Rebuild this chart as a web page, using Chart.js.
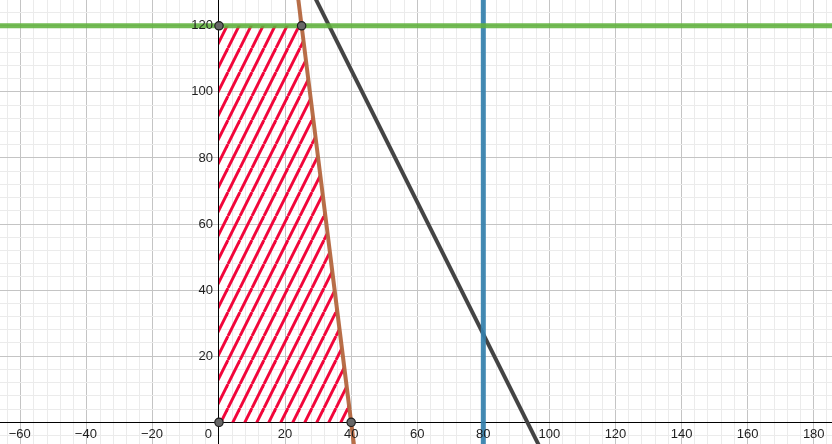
<!DOCTYPE html>
<html><head><meta charset="utf-8">
<script src="https://cdn.jsdelivr.net/npm/chart.js@4"></script>
<style>html,body{margin:0;padding:0;background:#fff;overflow:hidden}#wrap{width:832px;height:444px}</style>
</head><body><div id="wrap"><canvas id="c" width="832" height="444"></canvas></div>
<script>
// ---- data ----
const xTickLabels = [-60, -40, -20, 0, 20, 40, 60, 80, 100, 120, 140, 160, 180];
const yTickLabels = [20, 40, 60, 80, 100, 120];
const regionTopX = [0, 25, 40];        // feasible region upper boundary (filled down to y = 0)
const regionTopY = [120, 120, 0];
const vertexX = [0, 40, 25, 0];
const vertexY = [0, 0, 120, 120];
const greenX = [-80, 200];  const greenY = [120, 120];          // y = 120
const blueX = [80, 80];     const blueY = [-20, 140];           // x = 80
const brownX = [22.5, 42.5]; const brownY = [140, -20];         // 8x + y = 320
const darkX = [23.33, 103.33]; const darkY = [140, -20];        // 2x + y = 186.67

const pts = (xs, ys) => xs.map((x, i) => ({x, y: ys[i]}));

const canvas = document.getElementById('c');
const ctx = canvas.getContext('2d');

function makeHatch() {
  const t = document.createElement('canvas');
  t.width = 12; t.height = 24;
  const g = t.getContext('2d');
  g.strokeStyle = '#f2053a';
  g.lineWidth = 2.9;
  for (const o of [-12, 0, 12]) {
    g.beginPath(); g.moveTo(o, 24); g.lineTo(o + 12, 0); g.stroke();
  }
  return ctx.createPattern(t, 'repeat');
}

const range = (a, b, s) => { const r = []; for (let v = a; v <= b + 1e-9; v += s) r.push(v); return r; };
const gridColor = c => (Math.abs(c.tick.value % 20) < 1e-6 ? '#c4c4c4' : '#ebebeb');

const labelPlugin = {
  id: 'labels',
  afterDatasetsDraw(chart) {
    const {ctx, scales: {x, y}} = chart;
    const x0 = x.getPixelForValue(0), y0 = y.getPixelForValue(0);
    ctx.save();
    ctx.fillStyle = '#1e1e1e';
    ctx.font = '13px "Liberation Sans", Arial, sans-serif';
    ctx.textBaseline = 'middle';
    ctx.textAlign = 'center';
    xTickLabels.forEach(v => {
      const s = v < 0 ? '\u2212' + Math.abs(v) : String(v);
      if (v === 0) { ctx.textAlign = 'right'; ctx.fillText(s, x0 - 7, y0 + 12); ctx.textAlign = 'center'; }
      else ctx.fillText(s, x.getPixelForValue(v) + (v < 0 ? -1 : 0), y0 + 12);
    });
    ctx.textAlign = 'right';
    yTickLabels.forEach(v => ctx.fillText(String(v), x0 - 6, y.getPixelForValue(v)));
    ctx.restore();
  }
};

new Chart(canvas, {
  type: 'scatter',
  data: {
    datasets: [
      { data: pts(vertexX, vertexY), showLine: false, pointRadius: 4.2, pointBackgroundColor: '#676767',
        pointBorderColor: '#1e1e1e', pointBorderWidth: 1.2 },
      { data: pts(greenX, greenY), showLine: true, pointRadius: 0, borderWidth: 5, borderColor: 'rgba(96,178,60,0.88)' },
      { data: pts(brownX, brownY), showLine: true, pointRadius: 0, borderWidth: 4, borderColor: 'rgba(180,102,62,0.95)' },
      { data: pts(blueX, blueY), showLine: true, pointRadius: 0, borderWidth: 5, borderColor: 'rgba(52,128,172,0.92)' },
      { data: pts(darkX, darkY), showLine: true, pointRadius: 0, borderWidth: 4, borderColor: '#444444' },
      { data: pts(regionTopX, regionTopY), showLine: true, pointRadius: 0, borderWidth: 0, borderColor: 'transparent',
        fill: {target: 'origin'}, backgroundColor: makeHatch() }
    ]
  },
  options: {
    responsive: false, animation: false, devicePixelRatio: 1,
    layout: {padding: 0, autoPadding: false},
    plugins: {legend: {display: false}, tooltip: {enabled: false}},
    scales: {
      x: { type: 'linear', min: -66.28, max: 185.53, position: {y: 0},
        afterBuildTicks: s => { s.ticks = range(-64, 184, 4).map(v => ({value: v})); },
        grid: {color: gridColor, lineWidth: 1, drawTicks: false},
        border: {display: true, color: '#000', width: 1},
        ticks: {display: false} },
      y: { type: 'linear', min: -6.57, max: 127.8, position: {x: 0},
        afterBuildTicks: s => { s.ticks = range(-4, 124, 4).map(v => ({value: v})); },
        grid: {color: gridColor, lineWidth: 1, drawTicks: false},
        border: {display: true, color: '#000', width: 1},
        ticks: {display: false} }
    }
  },
  plugins: [labelPlugin]
});
</script></body></html>
